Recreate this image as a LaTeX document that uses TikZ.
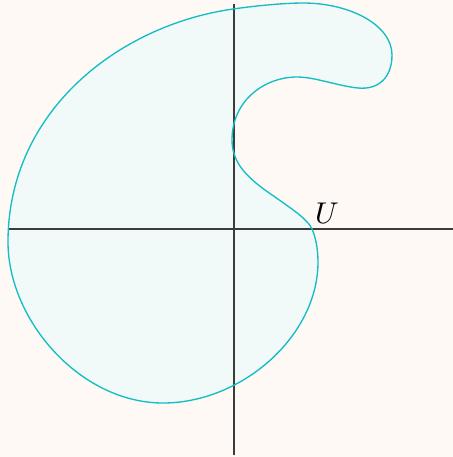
\documentclass[tikz,border=0pt]{standalone}
\usepackage{xcolor}
\usepackage{tikz}
\usetikzlibrary{positioning, calc}
\definecolor{ubg}{RGB}{255,249,246}
\definecolor{ucyan}{RGB}{20,190,196}
\definecolor{ufill}{RGB}{242,249,249}
\definecolor{uaxis}{RGB}{60,60,60}

\begin{document}
\begin{tikzpicture}[x=0.3333pt, y=-0.3333pt,
  axis/.style={draw=uaxis, line width=0.5pt},
  region/.style={draw=ucyan, line width=0.45pt},
  regionfill/.style={fill=ufill}
]
\fill[ubg] (0,0) rectangle (453,457);
\useasboundingbox (0,0) rectangle (453,457);
% the set U
\def\ucurve{(8,242) .. controls (8,110) and (120,25) .. (233,9)
  .. controls (258,5.5) and (285,3) .. (303,3)
  .. controls (350,3) and (392,25) .. (392,55)
  .. controls (392,78) and (378,90) .. (358,88)
  .. controls (338,86) and (315,77) .. (297,77)
  .. controls (265,77) and (232,100) .. (232,140)
  .. controls (232,165) and (250,180) .. (275,197)
  .. controls (295,211) and (308,220) .. (312,229)
  .. controls (316,238) and (318,250) .. (318,262)
  .. controls (318,336) and (242,403) .. (163,403)
  .. controls (80,403) and (8,320) .. (8,242) -- cycle}
\fill[regionfill] \ucurve;
% axes
\draw[axis] (8,229) -- (453,229);
\draw[axis] (234,4) -- (234,455);
\draw[region] \ucurve;
\node (lblU) at (327,213) {$U$};
\end{tikzpicture}
\end{document}
